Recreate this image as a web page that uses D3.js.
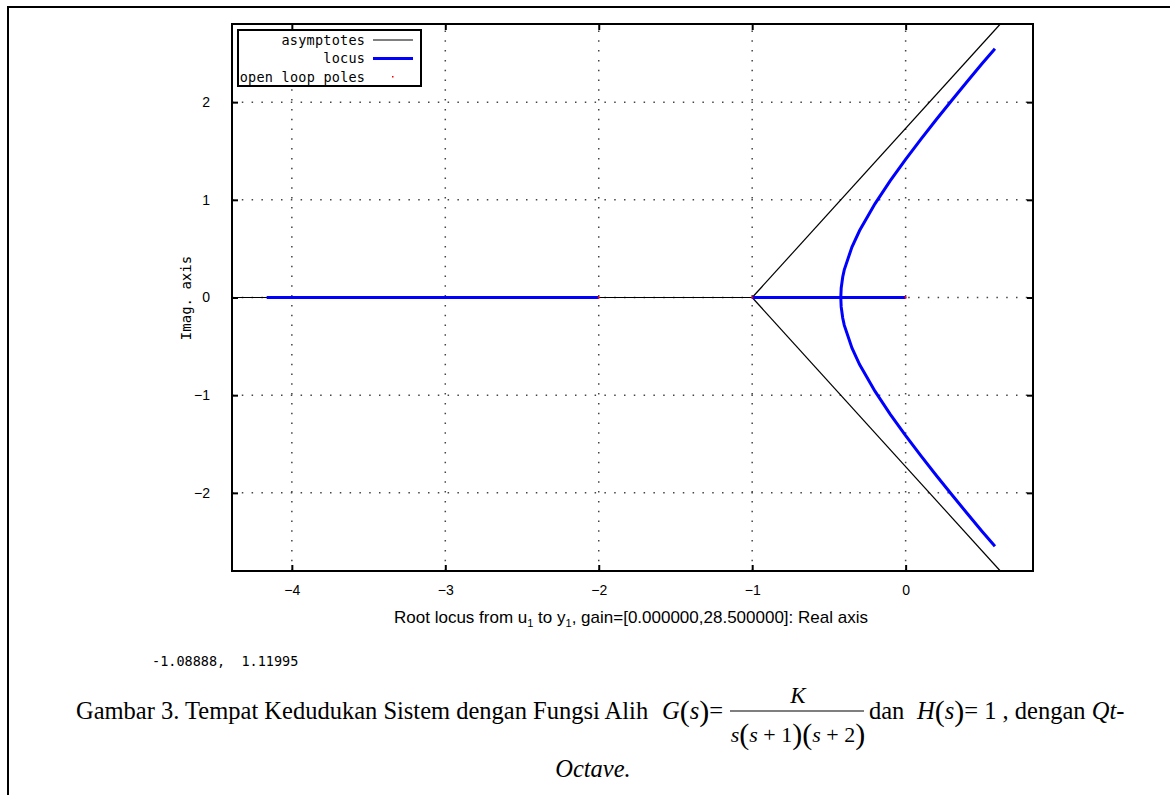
<!DOCTYPE html>
<html>
<head>
<meta charset="utf-8">
<script src="https://cdn.jsdelivr.net/npm/d3@7"></script>
<style>
  body { margin: 0; background: #fff; }
  svg { display: block; }
</style>
</head>
<body>
<div id="chart-area"></div>
<script>
const W = 1170, H = 795
const MARGIN = { LEFT: 232, RIGHT: 137, TOP: 24, BOTTOM: 224 }

// data
const xTicks = [-4, -3, -2, -1, 0]
const yTicks = [-2, -1, 0, 1, 2]
const xDomain = [-4.39, 0.83]
const yDomain = [-2.8, 2.8]

const asymptoteUp = [[-1, 0], [0.617, 2.8]]
const asymptoteDown = [[-1, 0], [0.617, -2.8]]
const asymptoteLeft = [[-1, 0], [-4.39, 0]]

const locusRealA = [[-4.164, 0], [-2, 0]]
const locusRealB = [[-1, 0], [0, 0]]
const locusUpper = [
  [-0.4226, 0], [-0.42, 0.096], [-0.41, 0.210], [-0.40, 0.283], [-0.35, 0.517],
  [-0.30, 0.686], [-0.20, 0.959], [-0.10, 1.196], [0, 1.414], [0.10, 1.622],
  [0.20, 1.822], [0.30, 2.017], [0.40, 2.209], [0.50, 2.398], [0.582, 2.547]
]
const locusLower = [
  [-0.4226, 0], [-0.42, -0.096], [-0.41, -0.210], [-0.40, -0.283], [-0.35, -0.517],
  [-0.30, -0.686], [-0.20, -0.959], [-0.10, -1.196], [0, -1.414], [0.10, -1.622],
  [0.20, -1.822], [0.30, -2.017], [0.40, -2.209], [0.50, -2.398], [0.582, -2.547]
]
const poles = [0, -1, -2]
const cursorText = "-1.08888,  1.11995"

const svg = d3.select("#chart-area").append("svg")
  .attr("width", W)
  .attr("height", H)

// outer page frame
svg.append("rect")
  .attr("x", 8).attr("y", 7)
  .attr("width", 1300).attr("height", 900)
  .attr("fill", "none")
  .attr("stroke", "#000")
  .attr("stroke-width", 2)

const PW = W - MARGIN.LEFT - MARGIN.RIGHT
const PH = H - MARGIN.TOP - MARGIN.BOTTOM

const x = d3.scaleLinear().domain(xDomain).range([MARGIN.LEFT, MARGIN.LEFT + PW])
const y = d3.scaleLinear().domain(yDomain).range([MARGIN.TOP + PH, MARGIN.TOP])

const g = svg.append("g")

// grid
g.selectAll(".gx").data(xTicks).enter().append("line")
  .attr("x1", d => x(d)).attr("x2", d => x(d))
  .attr("y1", y(yDomain[0])).attr("y2", y(yDomain[1]))
  .attr("stroke", "#444").attr("stroke-width", 1.5)
  .attr("stroke-dasharray", "1.5,8.3")
g.selectAll(".gy").data(yTicks).enter().append("line")
  .attr("x1", x(xDomain[0])).attr("x2", x(xDomain[1]))
  .attr("y1", d => y(d)).attr("y2", d => y(d))
  .attr("stroke", "#444").attr("stroke-width", 1.5)
  .attr("stroke-dasharray", "1.5,8.3")

const line = d3.line().x(d => x(d[0])).y(d => y(d[1]))

// asymptotes
;[asymptoteUp, asymptoteDown, asymptoteLeft].forEach(a => {
  g.append("path").attr("d", line(a))
    .attr("fill", "none").attr("stroke", "#000").attr("stroke-width", 1.2)
})

// locus
;[locusRealA, locusRealB, locusUpper, locusLower].forEach(a => {
  g.append("path").attr("d", line(a))
    .attr("fill", "none").attr("stroke", "#0000ff").attr("stroke-width", 3)
})

// open loop poles
g.selectAll(".pole").data(poles).enter().append("rect")
  .attr("x", d => x(d) - 1).attr("y", y(0) - 1)
  .attr("width", 2).attr("height", 2)
  .attr("fill", "#ff0000")

// frame
svg.append("rect")
  .attr("x", MARGIN.LEFT).attr("y", MARGIN.TOP)
  .attr("width", PW).attr("height", PH)
  .attr("fill", "none").attr("stroke", "#000").attr("stroke-width", 2)

// axes (ticks inward on all sides)
const tickFmt = d => d < 0 ? "\u2212" + Math.abs(d) : d
const axB = svg.append("g").attr("transform", `translate(0,${MARGIN.TOP + PH})`)
  .call(d3.axisBottom(x).tickValues(xTicks).tickSizeInner(-6).tickSizeOuter(0).tickPadding(14).tickFormat(tickFmt))
const axT = svg.append("g").attr("transform", `translate(0,${MARGIN.TOP})`)
  .call(d3.axisTop(x).tickValues(xTicks).tickSizeInner(-6).tickSizeOuter(0).tickFormat(""))
const axL = svg.append("g").attr("transform", `translate(${MARGIN.LEFT},0)`)
  .call(d3.axisLeft(y).tickValues(yTicks).tickSizeInner(-6).tickSizeOuter(0).tickPadding(22).tickFormat(tickFmt))
const axR = svg.append("g").attr("transform", `translate(${MARGIN.LEFT + PW},0)`)
  .call(d3.axisRight(y).tickValues(yTicks).tickSizeInner(-6).tickSizeOuter(0).tickFormat(""))
;[axB, axT, axL, axR].forEach(a => {
  a.select(".domain").remove()
  a.selectAll(".tick line").attr("stroke", "#000").attr("stroke-width", 2)
  a.selectAll("text").attr("font-family", "Liberation Sans, Arial, sans-serif")
    .attr("font-size", 14).attr("fill", "#000")
})

// axis labels
svg.append("text")
  .attr("x", 631).attr("y", 623)
  .attr("text-anchor", "middle")
  .attr("font-family", "Liberation Sans, Arial, sans-serif")
  .attr("font-size", 17)
  .call(t => {
    t.append("tspan").text("Root locus from u")
    t.append("tspan").attr("dy", 4).attr("font-size", 11).text("1")
    t.append("tspan").attr("dy", -4).text(" to y")
    t.append("tspan").attr("dy", 4).attr("font-size", 11).text("1")
    t.append("tspan").attr("dy", -4).text(", gain=[0.000000,28.500000]: Real axis")
  })

svg.append("text")
  .attr("transform", "translate(191,298) rotate(-90)")
  .attr("text-anchor", "middle")
  .attr("font-family", "DejaVu Sans Mono, monospace")
  .attr("font-size", 14)
  .text("Imag. axis")

// legend
const leg = svg.append("g")
leg.append("rect")
  .attr("x", 238).attr("y", 30).attr("width", 183).attr("height", 56)
  .attr("fill", "#fff").attr("stroke", "#000").attr("stroke-width", 2)
const legItems = [
  { label: "asymptotes", type: "line", color: "#000", w: 1.2 },
  { label: "locus", type: "line", color: "#0000ff", w: 3 },
  { label: "open loop poles", type: "dot", color: "#ff0000" }
]
legItems.forEach((d, i) => {
  const cy = 40 + i * 18.5
  leg.append("text")
    .attr("x", 365).attr("y", cy + 4.5)
    .attr("text-anchor", "end")
    .attr("font-family", "DejaVu Sans Mono, monospace")
    .attr("font-size", 13.5)
    .attr("textLength", d.label.length * 8.35)
    .text(d.label)
  if (d.type === "line") {
    leg.append("line").attr("x1", 373).attr("x2", 413).attr("y1", cy).attr("y2", cy)
      .attr("stroke", d.color).attr("stroke-width", d.w)
  } else {
    leg.append("rect").attr("x", 392).attr("y", cy - 1).attr("width", 1.5).attr("height", 1.5)
      .attr("fill", d.color)
  }
})

// cursor readout
svg.append("text")
  .attr("x", 152).attr("y", 666)
  .attr("font-family", "DejaVu Sans Mono, monospace")
  .attr("font-size", 13.5)
  .style("white-space", "pre")
  .text(cursorText)

// caption
const serif = "Liberation Serif, Times New Roman, serif"
const cap = svg.append("g").attr("font-family", serif).attr("font-size", 24.5).attr("fill", "#000")
const paren = (t, s) => t.append("tspan").attr("font-size", 30).attr("dy", 2).text(s)
cap.append("text").attr("x", 76).attr("y", 719)
  .text("Gambar 3. Tempat Kedudukan Sistem dengan Fungsi Alih")
cap.append("text").attr("x", 723).attr("y", 719).attr("text-anchor", "end")
  .call(t => {
    t.append("tspan").attr("font-style", "italic").text("G")
    paren(t, "(")
    t.append("tspan").attr("font-style", "italic").attr("dy", -2).text("s")
    paren(t, ")")
    t.append("tspan").attr("dy", -2).text("=")
  })
cap.append("text").attr("x", 798).attr("y", 703).attr("text-anchor", "middle")
  .attr("font-size", 23).attr("font-style", "italic").text("K")
cap.append("line").attr("x1", 730).attr("x2", 864).attr("y1", 711).attr("y2", 711)
  .attr("stroke", "#000").attr("stroke-width", 1.2)
cap.append("text").attr("x", 798).attr("y", 742).attr("text-anchor", "middle")
  .attr("font-size", 22)
  .call(t => {
    t.append("tspan").attr("font-style", "italic").text("s")
    paren(t, "(")
    t.append("tspan").attr("font-style", "italic").attr("dy", -2).text("s")
    t.append("tspan").text(" + 1")
    paren(t, ")(")
    t.append("tspan").attr("font-style", "italic").attr("dy", -2).text("s")
    t.append("tspan").text(" + 2")
    paren(t, ")")
  })
cap.append("text").attr("x", 869).attr("y", 719).text("dan")
cap.append("text").attr("x", 917).attr("y", 719)
  .call(t => {
    t.append("tspan").attr("font-style", "italic").text("H")
    paren(t, "(")
    t.append("tspan").attr("font-style", "italic").attr("dy", -2).text("s")
    paren(t, ")")
    t.append("tspan").attr("dy", -2).text("= 1")
    t.append("tspan").text(" , dengan ")
    t.append("tspan").attr("font-style", "italic").text("Qt")
    t.append("tspan").text("-")
  })
cap.append("text").attr("x", 593).attr("y", 777).attr("text-anchor", "middle")
  .attr("font-style", "italic").text("Octave.")
</script>
</body>
</html>
